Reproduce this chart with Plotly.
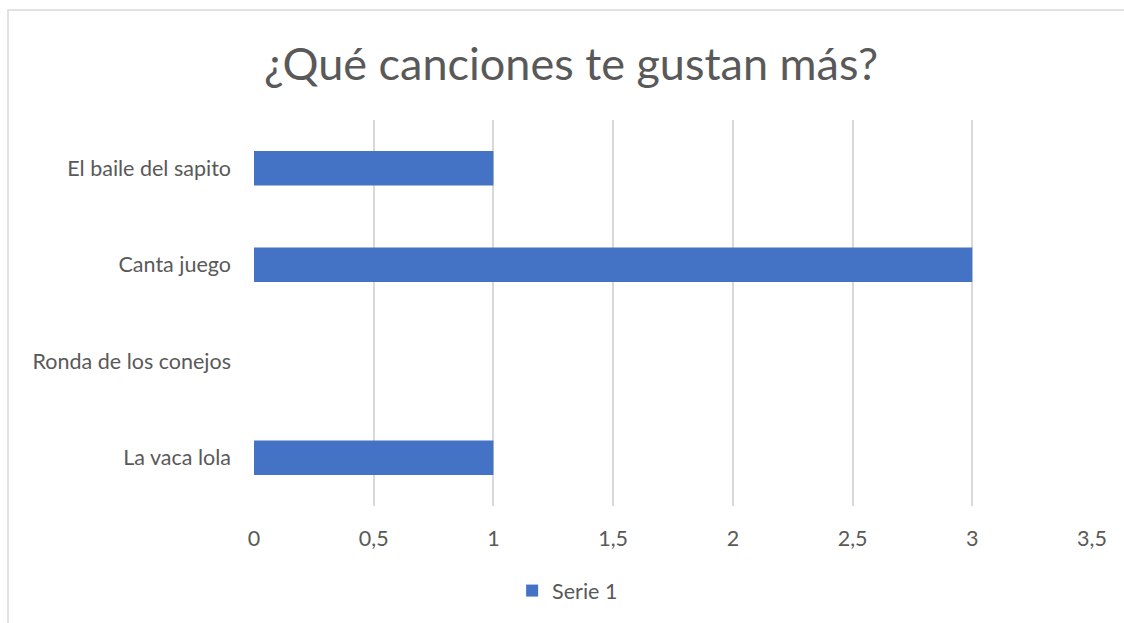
import plotly.graph_objects as go

categories = ["La vaca lola", "Ronda de los conejos", "Canta juego", "El baile del sapito"]
values = [1, 0, 3, 1]
series_name = "Serie 1"
tick_vals = [0, 0.5, 1, 1.5, 2, 2.5, 3, 3.5]
tick_text = ["0", "0,5", "1", "1,5", "2", "2,5", "3", "3,5"]

FONT = "Lato, Open Sans, sans-serif"
GREY = "#595959"

fig = go.Figure()
fig.add_trace(go.Bar(
    y=categories, x=values, orientation="h", name=series_name,
    marker=dict(color="#4472C4", line=dict(width=0)), showlegend=True,
))

PL, PR, PT, PB = 254, 1092, 120, 506
pw, ph = PR - PL, PB - PT

fig.update_layout(
    width=1124, height=623,
    margin=dict(l=PL, r=1124 - PR, t=PT, b=623 - PB),
    paper_bgcolor="white", plot_bgcolor="white",
    font=dict(family=FONT, color=GREY, size=21),
    bargap=0.645,
    title=dict(text="¿Qué canciones te gustan más?", x=0.508, xref="container",
               xanchor="center", y=0.897, yanchor="middle",
               font=dict(size=45, color=GREY, family=FONT)),
    xaxis=dict(range=[0, 3.5], tickvals=tick_vals, ticktext=tick_text,
               showgrid=True, gridcolor="#d9d9d9", gridwidth=1.5,
               zeroline=False, showline=False, ticks="",
               ticklabelstandoff=17, tickfont=dict(size=21.5, color=GREY)),
    yaxis=dict(showgrid=False, zeroline=False, showline=False, ticks="",
               ticklabelstandoff=22, tickfont=dict(size=21.5, color=GREY)),
    legend=dict(orientation="h", x=0.505, xref="container", xanchor="center",
                y=0.052, yref="container", yanchor="middle",
                font=dict(size=21.5, color=GREY), itemwidth=30),
    shapes=[dict(type="rect", xref="paper", yref="paper",
                 x0=(8 - PL) / pw, x1=1.2, y0=-0.4, y1=(PB - 10) / ph,
                 line=dict(color="#d9d9d9", width=1.5), fillcolor="rgba(0,0,0,0)",
                 layer="below")],
)

fig.write_html("out.html")
